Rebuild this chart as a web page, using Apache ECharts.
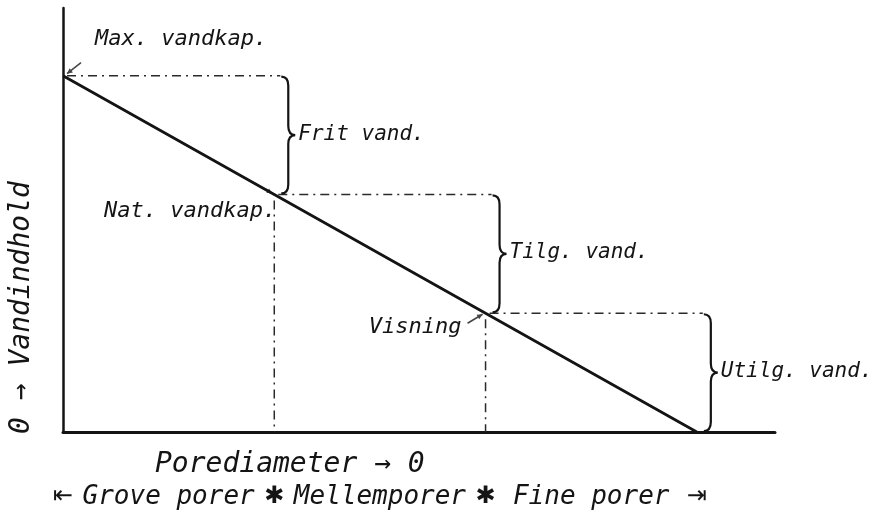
<!DOCTYPE html>
<html>
<head>
<meta charset="utf-8">
<script src="https://cdn.jsdelivr.net/npm/echarts@6/dist/echarts.min.js"></script>
<style>
html, body { margin: 0; background: #fff; }
#chart { width: 879px; height: 522px; }
</style>
</head>
<body>
<div id="chart"></div>
<script>
// vandindhold mod porediameter - skitse
const poreX = [0, 1, 2, 3];
const waterLevel = [3, 2, 1, 0];
const pointNames = ['Max. vandkap.', 'Nat. vandkap.', 'Visning'];
const waterClasses = ['Frit vand.', 'Tilg. vand.', 'Utilg. vand.'];
const poreClasses = ['Grove porer', 'Mellemporer', 'Fine porer'];
const poreMarks = ['⇤', '✱', '✱', '⇥'];

const INK = '#141414';
const FONT = '"DejaVu Sans Mono", monospace';

// label placement per point (pixel offsets, styling only)
const labelPos = [
    { dx: 32, dy: -36, align: 'left', arrow: [18, -13, 4, -2] },
    { dx: 2, dy: 17, align: 'right', arrow: [-10, -6, -2, -1] },
    { dx: -24, dy: 14, align: 'right', arrow: [-18, 10, -3, 1] }
];

let myChart = echarts.init(document.getElementById('chart'));

let option = {
    backgroundColor: '#fff',
    animation: false,
    grid: { left: 63, right: 104, top: 8, bottom: 90 },
    xAxis: {
        type: 'value', min: 0, max: 3.37,
        axisLine: { show: true, lineStyle: { color: INK, width: 3 } },
        axisTick: { show: false }, axisLabel: { show: false }, splitLine: { show: false }
    },
    yAxis: {
        type: 'value', min: 0, max: 3.57,
        axisLine: { show: true, lineStyle: { color: INK, width: 2.5 } },
        axisTick: { show: false }, axisLabel: { show: false }, splitLine: { show: false }
    },
    graphic: [
        {
            type: 'text', x: 155, y: 465,
            style: { text: 'Porediameter → 0', font: 'italic 28px ' + FONT, fill: INK, verticalAlign: 'middle' }
        },
        {
            type: 'text', x: 22, y: 434, rotation: Math.PI / 2,
            style: { text: '0 → Vandindhold', font: 'italic 28px ' + FONT, fill: INK, verticalAlign: 'middle' }
        }
    ],
    series: [
        {
            // hovedlinjen
            type: 'line',
            data: poreX.map((x, i) => [x, waterLevel[i]]),
            symbol: 'none',
            lineStyle: { color: INK, width: 2.8 },
            silent: true, z: 5
        },
        {
            // stiplede hjaelpelinjer
            type: 'custom',
            data: poreX.slice(0, 3).map((x, i) => [x, waterLevel[i], poreX[i + 1]]),
            clip: false, silent: true,
            renderItem: function (params, api) {
                let p = api.coord([api.value(0), api.value(1)]);
                let tip = api.coord([api.value(2), api.value(1)]);
                let base = api.coord([api.value(0), 0]);
                let style = { stroke: '#2a2a2a', lineWidth: 1.5, lineDash: [9, 5, 2, 5] };
                let children = [{
                    type: 'line',
                    shape: { x1: p[0] + 4, y1: p[1], x2: tip[0] + 6, y2: p[1] },
                    style: style
                }];
                if (params.dataIndex > 0) {
                    children.push({
                        type: 'line',
                        shape: { x1: p[0], y1: p[1] + 6, x2: p[0], y2: base[1] },
                        style: style
                    });
                }
                return { type: 'group', children: children };
            }
        },
        {
            // klammer med vandtyper
            type: 'custom',
            data: waterClasses.map((c, i) => [poreX[i + 1], waterLevel[i], waterLevel[i + 1]]),
            clip: false, silent: true,
            renderItem: function (params, api) {
                let top = api.coord([api.value(0), api.value(1)]);
                let bot = api.coord([api.value(0), api.value(2)]);
                let tx = top[0] + 7, sx = top[0] + 14, px = top[0] + 21;
                let ty = top[1] + 1, by = bot[1] - 1, my = (ty + by) / 2;
                let r = 9;
                let d = 'M' + tx + ',' + ty +
                    ' Q' + sx + ',' + ty + ' ' + sx + ',' + (ty + r) +
                    ' L' + sx + ',' + (my - r) +
                    ' Q' + sx + ',' + my + ' ' + px + ',' + my +
                    ' Q' + sx + ',' + my + ' ' + sx + ',' + (my + r) +
                    ' L' + sx + ',' + (by - r) +
                    ' Q' + sx + ',' + by + ' ' + tx + ',' + by;
                return {
                    type: 'group',
                    children: [
                        { type: 'path', shape: { pathData: d }, style: { stroke: INK, lineWidth: 2.2, fill: 'none' } },
                        {
                            type: 'text',
                            style: {
                                x: px + 3, y: my - 1, text: waterClasses[params.dataIndex],
                                font: 'italic 21px ' + FONT, fill: INK, align: 'left', verticalAlign: 'middle'
                            }
                        }
                    ]
                };
            }
        },
        {
            // navne paa punkterne
            type: 'custom',
            data: pointNames.map((n, i) => [poreX[i], waterLevel[i]]),
            clip: false, silent: true,
            renderItem: function (params, api) {
                let p = api.coord([api.value(0), api.value(1)]);
                let L = labelPos[params.dataIndex];
                let a = L.arrow;
                let x1 = p[0] + a[0], y1 = p[1] + a[1], x2 = p[0] + a[2], y2 = p[1] + a[3];
                let ang = Math.atan2(y2 - y1, x2 - x1);
                let h = 6;
                return {
                    type: 'group',
                    children: [
                        {
                            type: 'text',
                            style: {
                                x: p[0] + L.dx, y: p[1] + L.dy, text: pointNames[params.dataIndex],
                                font: 'italic 22px ' + FONT, fill: INK, align: L.align, verticalAlign: 'middle'
                            }
                        },
                        { type: 'line', shape: { x1: x1, y1: y1, x2: x2, y2: y2 }, style: { stroke: '#444', lineWidth: 1.5 } },
                        {
                            type: 'polygon',
                            shape: {
                                points: [
                                    [x2, y2],
                                    [x2 - h * Math.cos(ang - 0.45), y2 - h * Math.sin(ang - 0.45)],
                                    [x2 - h * Math.cos(ang + 0.45), y2 - h * Math.sin(ang + 0.45)]
                                ]
                            },
                            style: { fill: '#444' }
                        }
                    ]
                };
            }
        },
        {
            // poreklasser under aksen
            type: 'custom',
            data: poreClasses.map((c, i) => [poreX[i], poreX[i + 1]]),
            clip: false, silent: true,
            renderItem: function (params, api) {
                let a = api.coord([api.value(0), 0]);
                let b = api.coord([api.value(1), 0]);
                return {
                    type: 'text',
                    style: {
                        x: (a[0] + b[0]) / 2, y: a[1] + 65, text: poreClasses[params.dataIndex],
                        font: 'italic 26px ' + FONT, fill: INK, align: 'center', verticalAlign: 'middle'
                    }
                };
            }
        },
        {
            // graensemaerker
            type: 'custom',
            data: poreX.map(x => [x, 0]),
            clip: false, silent: true,
            renderItem: function (params, api) {
                let p = api.coord([api.value(0), 0]);
                return {
                    type: 'text',
                    style: {
                        x: p[0], y: p[1] + 65, text: poreMarks[params.dataIndex],
                        font: '24px "DejaVu Sans", sans-serif', fill: INK, align: 'center', verticalAlign: 'middle'
                    }
                };
            }
        }
    ]
};

myChart.setOption(option);
</script>
</body>
</html>
